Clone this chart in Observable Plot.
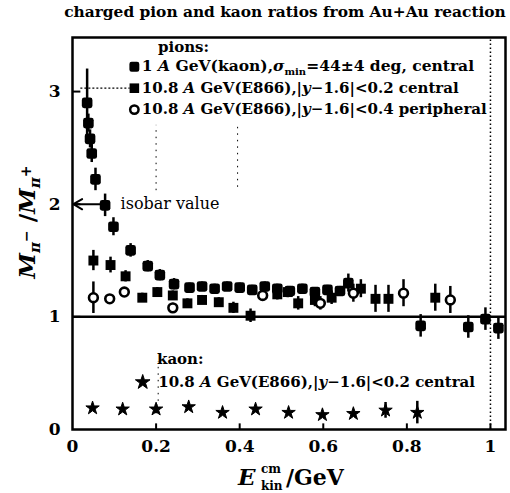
<!DOCTYPE html>
<html>
<head>
<meta charset="utf-8">
<script src="https://cdn.jsdelivr.net/npm/d3@7"></script>
<script src="https://cdn.jsdelivr.net/npm/@observablehq/plot@0.6"></script>
<style>
  body { margin: 0; background: #fff; }
  svg { display: block; }
</style>
</head>
<body>
<div id="chart"></div>
<script>
// pi-/pi+ ratio, 1 A GeV Au+Au, central
const kaosE     = [0.035, 0.038, 0.042, 0.046, 0.055, 0.078, 0.098, 0.139, 0.180, 0.209, 0.243, 0.280, 0.310, 0.340, 0.370, 0.400, 0.430, 0.460, 0.490, 0.520, 0.550, 0.580, 0.610, 0.640, 0.660, 0.833, 0.947, 0.988, 1.019];
const kaosRatio = [2.90, 2.72, 2.58, 2.45, 2.22, 1.99, 1.80, 1.59, 1.45, 1.37, 1.29, 1.26, 1.27, 1.25, 1.27, 1.26, 1.24, 1.27, 1.25, 1.23, 1.25, 1.22, 1.24, 1.23, 1.30, 0.92, 0.91, 0.98, 0.90];
const kaosErr   = [0.30, 0.08, 0.08, 0.08, 0.10, 0.10, 0.08, 0.06, 0.05, 0.05, 0.05, 0.04, 0.04, 0.04, 0.04, 0.04, 0.04, 0.04, 0.04, 0.04, 0.04, 0.04, 0.04, 0.04, 0.08, 0.10, 0.10, 0.10, 0.10];

// pi-/pi+ ratio, 10.8 A GeV (E866), |y-1.6|<0.2, central
const e866cE     = [0.050, 0.091, 0.127, 0.167, 0.203, 0.240, 0.275, 0.310, 0.350, 0.385, 0.426, 0.490, 0.515, 0.540, 0.580, 0.620, 0.690, 0.725, 0.756, 0.868];
const e866cRatio = [1.50, 1.46, 1.36, 1.17, 1.22, 1.19, 1.12, 1.15, 1.13, 1.08, 1.01, 1.20, 1.22, 1.12, 1.15, 1.17, 1.25, 1.16, 1.16, 1.17];
const e866cErr   = [0.09, 0.07, 0.05, 0.04, 0.04, 0.04, 0.04, 0.04, 0.04, 0.05, 0.06, 0.05, 0.05, 0.06, 0.06, 0.06, 0.08, 0.12, 0.12, 0.12];

// pi-/pi+ ratio, 10.8 A GeV (E866), |y-1.6|<0.4, peripheral
const e866pE     = [0.050, 0.089, 0.124, 0.240, 0.455, 0.593, 0.672, 0.792, 0.904];
const e866pRatio = [1.17, 1.16, 1.22, 1.08, 1.19, 1.12, 1.21, 1.21, 1.15];
const e866pErr   = [0.14, 0.03, 0.03, 0.04, 0.05, 0.06, 0.08, 0.12, 0.12];

// K-/K+ ratio, 10.8 A GeV (E866), |y-1.6|<0.2, central
const kaonE     = [0.048, 0.120, 0.200, 0.278, 0.359, 0.438, 0.517, 0.598, 0.672, 0.749, 0.825];
const kaonRatio = [0.19, 0.18, 0.18, 0.20, 0.15, 0.18, 0.15, 0.13, 0.14, 0.17, 0.15];
const kaonErr   = [0.00, 0.00, 0.04, 0.00, 0.00, 0.00, 0.00, 0.02, 0.00, 0.07, 0.10];

const xTicks = [0, 0.2, 0.4, 0.6, 0.8, 1];
const yTicks = [0, 1, 2, 3];
const isobarValue = 2;

const rows = (xs, ys, es) => xs.map((x, i) => ({x, y: ys[i], e: es[i]}));
const kaos = rows(kaosE, kaosRatio, kaosErr);
const e866c = rows(e866cE, e866cRatio, e866cErr);
const e866p = rows(e866pE, e866pRatio, e866pErr);
const kaon = rows(kaonE, kaonRatio, kaonErr);

// filled square with rounded corners
const roundedSquare = {
  draw(ctx, size) {
    const s = Math.sqrt(size) / 2, r = s * 0.45;
    ctx.moveTo(-s + r, -s);
    ctx.arcTo(s, -s, s, s, r);
    ctx.arcTo(s, s, -s, s, r);
    ctx.arcTo(-s, s, -s, -s, r);
    ctx.arcTo(-s, -s, s, -s, r);
    ctx.closePath();
  }
};

const serif = "'DejaVu Serif', serif";
const errBars = (data) => Plot.ruleX(data, {
  filter: d => d.e > 0, x: "x", y1: d => d.y - d.e, y2: d => d.y + d.e,
  stroke: "#000", strokeWidth: 2.5
});

// legend row positions (data units)
const legX = 0.148, legY = [3.22, 3.03, 2.84];

const chart = Plot.plot({
  width: 510,
  height: 493,
  marginLeft: 72,
  marginRight: 5,
  marginTop: 37,
  marginBottom: 64,
  style: {fontFamily: serif, background: "#fff", color: "#000"},
  x: {domain: [0, 1.036]},
  y: {domain: [0, 3.48]},
  marks: [
    // faint dotted guide remnants
    Plot.ruleX([1], {y1: 0, y2: 3.48, stroke: "#000", strokeWidth: 1.5, strokeDasharray: "1.5,2.5"}),
    Plot.ruleX([0.2], {y1: 2.12, y2: 2.7, stroke: "#000", strokeWidth: 1, strokeDasharray: "1.5,5"}),
    Plot.ruleX([0.395], {y1: 2.15, y2: 2.72, stroke: "#000", strokeWidth: 1, strokeDasharray: "1.5,5"}),
    Plot.ruleX([0.205], {y1: 0.25, y2: 0.6, stroke: "#000", strokeWidth: 1, strokeDasharray: "1.5,5"}),
    Plot.ruleY([legY[1]], {x1: 0.02, x2: 0.138, stroke: "#000", strokeWidth: 1.2, strokeDasharray: "2,2"}),

    Plot.frame({stroke: "#000", strokeWidth: 2.5}),
    Plot.ruleY([1], {stroke: "#000", strokeWidth: 2.5}),
    // inward ticks
    Plot.ruleY(yTicks.slice(1), {x1: 0, x2: 0.02, stroke: "#000", strokeWidth: 2}),
    Plot.ruleX(xTicks.slice(1), {y1: 0, y2: 0.05, stroke: "#000", strokeWidth: 2}),
    Plot.axisX({ticks: xTicks, tickSize: 0, tickPadding: 10, tickFormat: d => String(d), fontSize: 17, fontWeight: "bold", label: null}),
    Plot.axisY({ticks: yTicks, tickSize: 0, tickPadding: 12, tickFormat: d => String(d), fontSize: 17, fontWeight: "bold", label: null}),

    // isobar value arrow
    Plot.arrow([isobarValue], {x1: 0.075, x2: 0.002, y1: d => d, y2: d => d, stroke: "#000", strokeWidth: 2, headLength: 9}),
    Plot.text([isobarValue], {x: 0.115, y: d => d, text: () => "isobar value", textAnchor: "start", lineAnchor: "middle", fontSize: 16, fill: "#000"}),

    // error bars and data points
    errBars(kaos), errBars(e866c), errBars(e866p), errBars(kaon),
    Plot.dot(kaos, {x: "x", y: "y", symbol: roundedSquare, r: 6, fill: "#000", stroke: "none"}),
    Plot.dot(e866c, {x: "x", y: "y", symbol: "square", r: 5.6, fill: "#000", stroke: "none"}),
    Plot.dot(e866p, {x: "x", y: "y", symbol: "circle", r: 4.4, fill: "#fff", stroke: "#000", strokeWidth: 2.6}),
    Plot.dot(kaon, {x: "x", y: "y", symbol: "star", r: 4.2, fill: "#000", stroke: "#000", strokeWidth: 1}),

    // legend markers
    Plot.dot([legY[0]], {x: legX, y: d => d, symbol: roundedSquare, r: 5.6, fill: "#000", stroke: "none"}),
    Plot.dot([legY[1]], {x: legX, y: d => d, symbol: "square", r: 5.4, fill: "#000", stroke: "none"}),
    Plot.dot([legY[2]], {x: legX, y: d => d, symbol: "circle", r: 4.2, fill: "#fff", stroke: "#000", strokeWidth: 2.5}),
    Plot.dot([0.42], {x: 0.168, y: d => d, symbol: "star", r: 4.6, fill: "#000", stroke: "#000", strokeWidth: 1})
  ]
});
document.getElementById("chart").append(chart);

// titles, legend texts and axis labels with sub/superscripts
const svg = d3.select(chart);
const X = chart.scale("x"), Y = chart.scale("y");

function rich(x, y, parts, size, attrs = {}) {
  const t = svg.append("text")
    .attr("x", x).attr("y", y)
    .attr("text-anchor", "start")
    .attr("font-family", serif).attr("font-weight", "bold")
    .attr("font-size", size).attr("fill", "#000");
  for (const [k, v] of Object.entries(attrs)) t.attr(k, v);
  for (const p of parts) {
    const s = t.append("tspan").text(p.t);
    if (p.i) s.attr("font-style", "italic");
    if (p.s) s.attr("font-size", p.s);
    if (p.dy) s.attr("dy", p.dy);
  }
  return t;
}

rich(285, 17, [{t: "charged pion and kaon ratios from Au+Au reaction"}], 15.4, {"text-anchor": "middle"});

const lx = X.apply(legX) + 8;
rich(158, Y.apply(3.39) + 5, [{t: "pions:"}], 15);
rich(lx, Y.apply(legY[0]) + 5, [
  {t: "1 "}, {t: "A", i: true}, {t: " GeV(kaon),"}, {t: "σ", i: true},
  {t: "min", s: 10, dy: 4}, {t: "=44±4 deg, central", dy: -4}
], 15.5);
rich(lx, Y.apply(legY[1]) + 5, [
  {t: "10.8 "}, {t: "A", i: true}, {t: " GeV(E866),|"}, {t: "y", i: true}, {t: "−1.6|<0.2 central"}
], 15);
rich(lx, Y.apply(legY[2]) + 5, [
  {t: "10.8 "}, {t: "A", i: true}, {t: " GeV(E866),|"}, {t: "y", i: true}, {t: "−1.6|<0.4 peripheral"}
], 15);

rich(157, Y.apply(0.62) + 5, [{t: "kaon:"}], 15);
rich(X.apply(0.168) + 16, Y.apply(0.42) + 5, [
  {t: "10.8 "}, {t: "A", i: true}, {t: " GeV(E866),|"}, {t: "y", i: true}, {t: "−1.6|<0.2 central"}
], 15);

// y-axis label
rich(0, 0, [
  {t: "M", i: true}, {t: "π", i: true, s: 15, dy: 5}, {t: "−", s: 14, dy: -9},
  {t: " /", dy: 4}, {t: "M", i: true}, {t: "π", i: true, s: 15, dy: 5}, {t: "+", s: 14, dy: -9}
], 23, {"text-anchor": "middle", transform: "translate(35,222) rotate(-90)"});

// x-axis label
rich(238, 485, [{t: "E", i: true}], 23);
rich(261, 473, [{t: "cm"}], 12);
rich(261, 490, [{t: "kin"}], 12);
rich(286, 485, [{t: "/GeV"}], 22);
</script>
</body>
</html>
